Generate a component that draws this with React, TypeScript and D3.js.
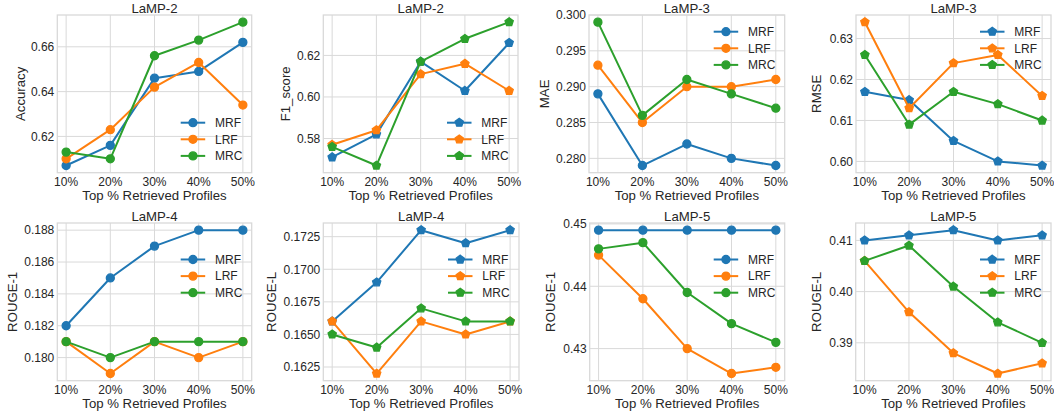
import React from "react";
import * as d3 from "d3";

// ---------- data ----------
const X_VALUES = [10, 20, 30, 40, 50];
const X_LABELS = ["10%", "20%", "30%", "40%", "50%"];
const SERIES_NAMES = ["MRF", "LRF", "MRC"];

const accMRF = [0.607, 0.616, 0.646, 0.649, 0.662];
const accLRF = [0.61, 0.623, 0.642, 0.653, 0.634];
const accMRC = [0.613, 0.61, 0.656, 0.663, 0.671];

const f1MRF = [0.571, 0.582, 0.617, 0.603, 0.626];
const f1LRF = [0.577, 0.584, 0.611, 0.616, 0.603];
const f1MRC = [0.576, 0.567, 0.617, 0.628, 0.636];

const maeMRF = [0.289, 0.279, 0.282, 0.28, 0.279];
const maeLRF = [0.293, 0.285, 0.29, 0.29, 0.291];
const maeMRC = [0.299, 0.286, 0.291, 0.289, 0.287];

const rmseMRF = [0.617, 0.615, 0.605, 0.6, 0.599];
const rmseLRF = [0.634, 0.613, 0.624, 0.626, 0.616];
const rmseMRC = [0.626, 0.609, 0.617, 0.614, 0.61];

const r1L4MRF = [0.182, 0.185, 0.187, 0.188, 0.188];
const r1L4LRF = [0.181, 0.179, 0.181, 0.18, 0.181];
const r1L4MRC = [0.181, 0.18, 0.181, 0.181, 0.181];

const rlL4MRF = [0.166, 0.169, 0.173, 0.172, 0.173];
const rlL4LRF = [0.166, 0.162, 0.166, 0.165, 0.166];
const rlL4MRC = [0.165, 0.164, 0.167, 0.166, 0.166];

const r1L5MRF = [0.449, 0.449, 0.449, 0.449, 0.449];
const r1L5LRF = [0.445, 0.438, 0.43, 0.426, 0.427];
const r1L5MRC = [0.446, 0.447, 0.439, 0.434, 0.431];

const rlL5MRF = [0.41, 0.411, 0.412, 0.41, 0.411];
const rlL5LRF = [0.406, 0.396, 0.388, 0.384, 0.386];
const rlL5MRC = [0.406, 0.409, 0.401, 0.394, 0.39];

const TITLES = ["LaMP-2", "LaMP-2", "LaMP-3", "LaMP-3", "LaMP-4", "LaMP-4", "LaMP-5", "LaMP-5"];
const YLABELS = ["Accuracy", "F1_score", "MAE", "RMSE", "ROUGE-1", "ROUGE-L", "ROUGE-1", "ROUGE-L"];

const yTicks1 = [0.62, 0.64, 0.66];
const yTickLabels1 = ["0.62", "0.64", "0.66"];
const yTicks2 = [0.58, 0.6, 0.62];
const yTickLabels2 = ["0.58", "0.60", "0.62"];
const yTicks3 = [0.28, 0.285, 0.29, 0.295, 0.3];
const yTickLabels3 = ["0.280", "0.285", "0.290", "0.295", "0.300"];
const yTicks4 = [0.6, 0.61, 0.62, 0.63];
const yTickLabels4 = ["0.60", "0.61", "0.62", "0.63"];
const yTicks5 = [0.18, 0.182, 0.184, 0.186, 0.188];
const yTickLabels5 = ["0.180", "0.182", "0.184", "0.186", "0.188"];
const yTicks6 = [0.1625, 0.165, 0.1675, 0.17, 0.1725];
const yTickLabels6 = ["0.1625", "0.1650", "0.1675", "0.1700", "0.1725"];
const yTicks7 = [0.43, 0.44, 0.45];
const yTickLabels7 = ["0.43", "0.44", "0.45"];
const yTicks8 = [0.39, 0.4, 0.41];
const yTickLabels8 = ["0.39", "0.40", "0.41"];

// ---------- layout / style ----------
const COLORS = ["#1f77b4", "#ff7f0e", "#2ca02c"];
const FONT = "'Liberation Sans', Arial, Helvetica, sans-serif";
const TEXT = "#262626";
const GRID = "#d9d9d9";
const TICK_FS = 12;
const LABEL_FS = 13.2;

type Panel = {
  series: number[][];
  yTicks: number[];
  yTickLabels: string[];
  marker: "circle" | "pentagon";
  box: { l: number; r: number; t: number; b: number };
  legend: { mode: "top" | "bottom"; off: number };
  ylabOff: number;
};

const ROW1 = { t: 15, b: 172.7 };
const ROW2 = { t: 223, b: 380.7 };

const PANELS: Panel[] = [
  { series: [accMRF, accLRF, accMRC], yTicks: yTicks1, yTickLabels: yTickLabels1, marker: "circle",
    box: { l: 57.3, r: 251.7, ...ROW1 }, legend: { mode: "bottom", off: 50 }, ylabOff: 37.5 },
  { series: [f1MRF, f1LRF, f1MRC], yTicks: yTicks2, yTickLabels: yTickLabels2, marker: "pentagon",
    box: { l: 323.3, r: 518, ...ROW1 }, legend: { mode: "bottom", off: 50 }, ylabOff: 38 },
  { series: [maeMRF, maeLRF, maeMRC], yTicks: yTicks3, yTickLabels: yTickLabels3, marker: "circle",
    box: { l: 589, r: 784.7, ...ROW1 }, legend: { mode: "top", off: 16.7 }, ylabOff: 44.5 },
  { series: [rmseMRF, rmseLRF, rmseMRC], yTicks: yTicks4, yTickLabels: yTickLabels4, marker: "pentagon",
    box: { l: 856, r: 1051, ...ROW1 }, legend: { mode: "top", off: 16.7 }, ylabOff: 39.3 },
  { series: [r1L4MRF, r1L4LRF, r1L4MRC], yTicks: yTicks5, yTickLabels: yTickLabels5, marker: "circle",
    box: { l: 57.3, r: 251.7, ...ROW2 }, legend: { mode: "top", off: 36.5 }, ylabOff: 45 },
  { series: [rlL4MRF, rlL4LRF, rlL4MRC], yTicks: yTicks6, yTickLabels: yTickLabels6, marker: "pentagon",
    box: { l: 323.3, r: 519, ...ROW2 }, legend: { mode: "top", off: 36.5 }, ylabOff: 51.6 },
  { series: [r1L5MRF, r1L5LRF, r1L5MRC], yTicks: yTicks7, yTickLabels: yTickLabels7, marker: "circle",
    box: { l: 589.7, r: 784.7, ...ROW2 }, legend: { mode: "top", off: 36.5 }, ylabOff: 39.4 },
  { series: [rlL5MRF, rlL5LRF, rlL5MRC], yTicks: yTicks8, yTickLabels: yTickLabels8, marker: "pentagon",
    box: { l: 855.7, r: 1051, ...ROW2 }, legend: { mode: "top", off: 36.5 }, ylabOff: 39 },
];

const MARKER_R = 4;

function pentagonPath(r: number) {
  const pts: [number, number][] = [];
  for (let k = 0; k < 5; k++) {
    const a = -Math.PI / 2 + (k * 2 * Math.PI) / 5;
    pts.push([r * Math.cos(a), r * Math.sin(a)]);
  }
  return "M" + pts.map((p) => p[0].toFixed(3) + "," + p[1].toFixed(3)).join("L") + "Z";
}

function Marker({ kind, x, y, color }: { kind: string; x: number; y: number; color: string }) {
  if (kind === "circle") {
    return <circle cx={x} cy={y} r={MARKER_R} fill={color} stroke={color} strokeWidth={1.33} />;
  }
  return (
    <path
      d={pentagonPath(MARKER_R * 1.08)}
      transform={`translate(${x},${y})`}
      fill={color}
      stroke={color}
      strokeWidth={1.33}
      strokeLinejoin="miter"
    />
  );
}

function PanelView({ p, idx }: { p: Panel; idx: number }) {
  const { l, r, t, b } = p.box;
  const xMin = d3.min(X_VALUES)!;
  const xMax = d3.max(X_VALUES)!;
  const xPad = (xMax - xMin) * 0.05;
  const x = d3.scaleLinear().domain([xMin - xPad, xMax + xPad]).range([l, r]);
  const all = p.series.flat();
  const yMin = d3.min(all)!;
  const yMax = d3.max(all)!;
  const yPad = (yMax - yMin) * 0.05;
  const y = d3.scaleLinear().domain([yMin - yPad, yMax + yPad]).range([b, t]);
  const line = d3
    .line<number>()
    .x((_, i) => x(X_VALUES[i]))
    .y((d) => y(d));

  const legendRows =
    p.legend.mode === "top"
      ? [0, 1, 2].map((i) => t + p.legend.off + i * 16.6)
      : [0, 1, 2].map((i) => b - p.legend.off + i * 16.6);
  const lgX0 = r - 71;
  const lgX1 = r - 46.5;
  const lgXT = r - 36.7;

  return (
    <g>
      {/* grid */}
      {X_VALUES.map((v, i) => (
        <line key={"gx" + i} x1={x(v)} x2={x(v)} y1={t} y2={b} stroke={GRID} strokeWidth={1} />
      ))}
      {p.yTicks.map((v, i) => (
        <line key={"gy" + i} x1={l} x2={r} y1={y(v)} y2={y(v)} stroke={GRID} strokeWidth={1} />
      ))}
      {/* frame */}
      <rect x={l} y={t} width={r - l} height={b - t} fill="none" stroke={GRID} strokeWidth={1.3} />
      {/* tick labels */}
      {X_VALUES.map((v, i) => (
        <text key={"xt" + i} x={x(v)} y={b + 13.2} textAnchor="middle" fontSize={TICK_FS} fill={TEXT} fontFamily={FONT}>
          {X_LABELS[i]}
        </text>
      ))}
      {p.yTicks.map((v, i) => (
        <text key={"yt" + i} x={l - 3} y={y(v)} dy="0.36em" textAnchor="end" fontSize={TICK_FS} fill={TEXT} fontFamily={FONT}>
          {p.yTickLabels[i]}
        </text>
      ))}
      {/* labels */}
      <text x={(l + r) / 2} y={t - 2.5} textAnchor="middle" fontSize={LABEL_FS} fill={TEXT} fontFamily={FONT}>
        {TITLES[idx]}
      </text>
      <text x={(l + r) / 2} y={b + 27} textAnchor="middle" fontSize={LABEL_FS} fill={TEXT} fontFamily={FONT}>
        Top % Retrieved Profiles
      </text>
      <text
        transform={`translate(${l - p.ylabOff},${(t + b) / 2}) rotate(-90)`}
        textAnchor="middle"
        dy="0.36em"
        fontSize={LABEL_FS}
        fill={TEXT}
        fontFamily={FONT}
      >
        {YLABELS[idx]}
      </text>
      {/* series */}
      {p.series.map((s, si) => (
        <g key={"s" + si}>
          <path d={line(s) || ""} fill="none" stroke={COLORS[si]} strokeWidth={2} strokeLinejoin="round" />
          {s.map((v, i) => (
            <Marker key={i} kind={p.marker} x={x(X_VALUES[i])} y={y(v)} color={COLORS[si]} />
          ))}
        </g>
      ))}
      {/* legend */}
      {SERIES_NAMES.map((name, si) => (
        <g key={"lg" + si}>
          <line x1={lgX0} x2={lgX1} y1={legendRows[si]} y2={legendRows[si]} stroke={COLORS[si]} strokeWidth={2} />
          <Marker kind={p.marker} x={(lgX0 + lgX1) / 2} y={legendRows[si]} color={COLORS[si]} />
          <text x={lgXT} y={legendRows[si]} dy="0.36em" fontSize={12} fill={TEXT} fontFamily={FONT}>
            {name}
          </text>
        </g>
      ))}
    </g>
  );
}

export default function App() {
  return (
    <svg width={1054} height={416} style={{ position: "absolute", left: 0, top: 0, background: "#fff" }}>
      <rect x={0} y={0} width={1054} height={416} fill="#fff" />
      {PANELS.map((p, i) => (
        <PanelView key={i} p={p} idx={i} />
      ))}
    </svg>
  );
}
